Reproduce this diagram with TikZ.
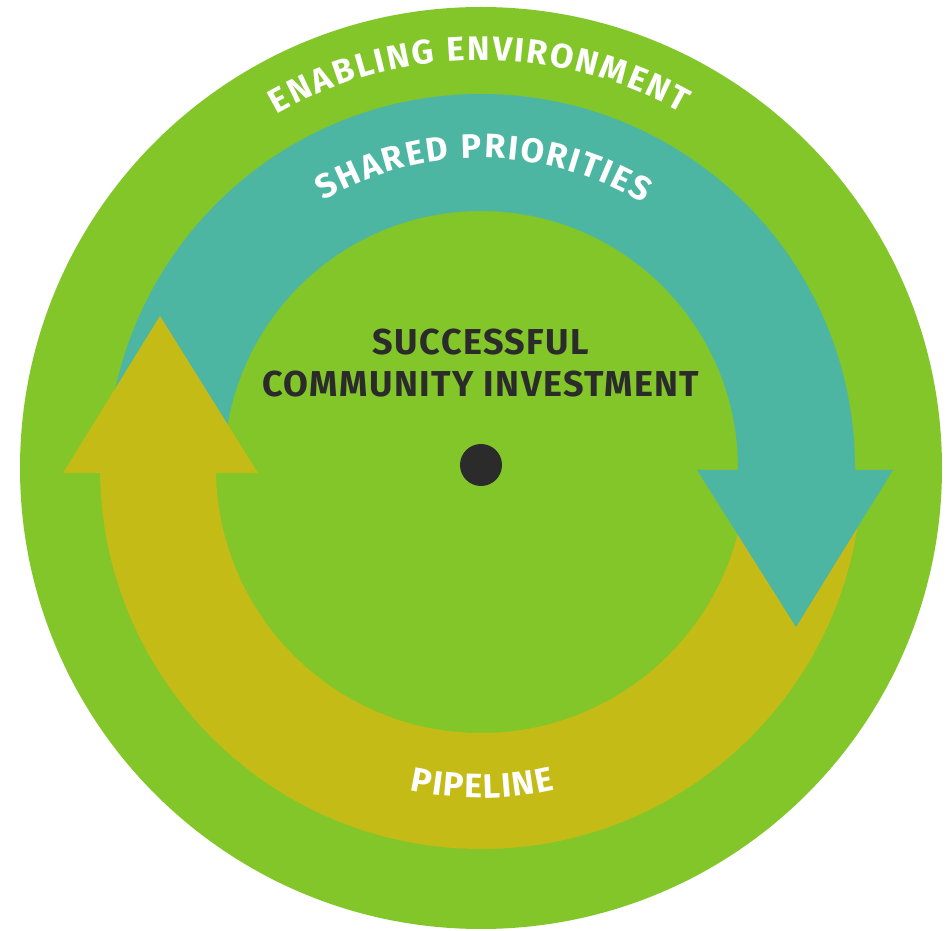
\documentclass[tikz,border=0pt]{standalone}
\usepackage{fontspec}
\setmainfont{Fira Sans}
\usetikzlibrary{decorations.text,calc}
\definecolor{envgreen}{HTML}{82C629}
\definecolor{shteal}{HTML}{4DB6A2}
\definecolor{pipeyellow}{HTML}{C5BB16}
\definecolor{darktext}{HTML}{2B2B2B}
\newcommand\arcfont{\fontsize{34pt}{34pt}\selectfont\bfseries}
\newcommand\centerfont{\fontsize{36pt}{42pt}\selectfont\bfseries\addfontfeatures{LetterSpace=4}}
\tikzset{
  curvetext/.style={decorate, decoration={text along path, text color=white,
    text={|\arcfont|#1}, text align=fit to path}},
  centertext/.style={anchor=base, text=darktext, font=\centerfont, inner sep=0pt}
}
\begin{document}
\begin{tikzpicture}[x=1pt,y=1pt]
\useasboundingbox (0,0) rectangle (948,930);
\coordinate (C) at (481,462);
% enabling environment disc
\fill[envgreen] (C) circle[radius=461pt];
% shared priorities band
\fill[shteal] ($(C)+(178:374pt)$) arc[start angle=178,end angle=-1,radius=374pt]
  -- ($(C)+(-1:257pt)$) arc[start angle=-1,end angle=178,radius=257pt] -- cycle;
% pipeline band
\fill[pipeyellow] ($(C)+(-3:381pt)$) arc[start angle=-3,end angle=-181,radius=381pt]
  -- ($(C)+(-181:265pt)$) arc[start angle=-181,end angle=-3,radius=265pt] -- cycle;
% arrow heads
\fill[pipeyellow] (63,457) -- (258,457) -- (160,614) -- cycle;
\fill[shteal] (697,460) -- (893,460) -- (796,303) -- cycle;
% centre
\node[circle, fill=darktext, minimum size=42pt, inner sep=0pt] (dot) at (481,465) {};
\node[centertext] (t1) at (481,575) {SUCCESSFUL};
\node[centertext] (t2) at (481,533) {COMMUNITY INVESTMENT};
% curved labels
\path[curvetext={ENABLING ENVIRONMENT}] ($(C)+(120:408pt)$) arc[start angle=120,end angle=60.5,radius=408pt];
\path[curvetext={SHARED PRIORITIES}] ($(C)+(120.5:310pt)$) arc[start angle=120.5,end angle=58.5,radius=310pt];
\path[curvetext={PIPELINE}] ($(C)+(-102.5:330pt)$) arc[start angle=-102.5,end angle=-77,radius=330pt];
\end{tikzpicture}
\end{document}
